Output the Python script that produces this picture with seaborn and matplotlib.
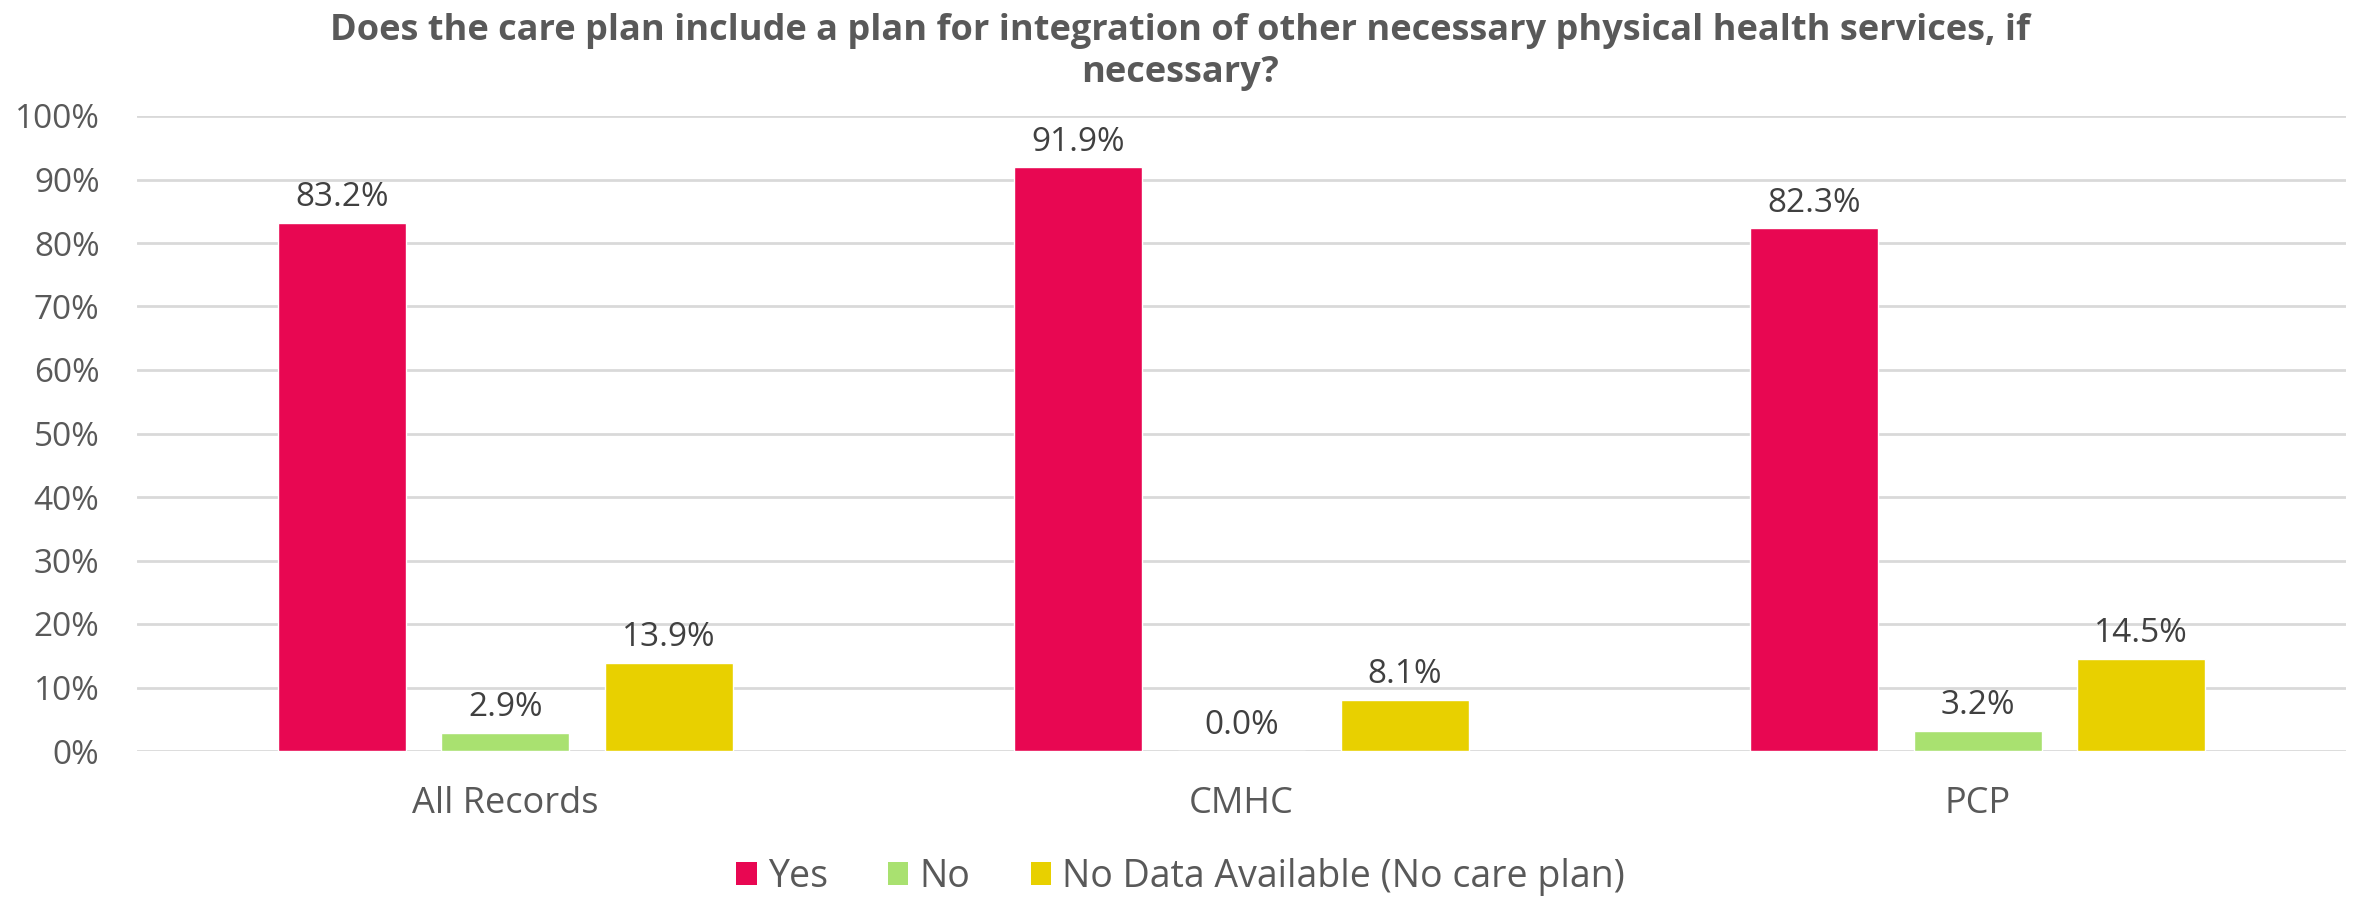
import matplotlib
matplotlib.use("Agg")
import matplotlib.pyplot as plt
from matplotlib.patches import Patch
import seaborn as sns
import pandas as pd

# Chart data
groups = ["All Records", "CMHC", "PCP"]
responses = ["Yes", "No", "No Data Available (No care plan)"]
yes_pct = [83.2, 91.9, 82.3]
no_pct = [2.9, 0.0, 3.2]
no_data_pct = [13.9, 8.1, 14.5]
y_ticks = [0, 10, 20, 30, 40, 50, 60, 70, 80, 90, 100]
title = ("Does the care plan include a plan for integration of other necessary "
         "physical health services, if\nnecessary?")

colors = ["#E80752", "#A9E170", "#E8D000"]
text_grey = "#595959"
label_grey = "#404040"
grid_grey = "#D9D9D9"

sns.set_theme(style="white")
plt.rcParams["font.family"] = ["Open Sans", "DejaVu Sans"]

series = [yes_pct, no_pct, no_data_pct]
df = pd.DataFrame({
    "group": [g for s in series for g in groups],
    "response": [r for r, s in zip(responses, series) for _ in groups],
    "value": [v for s in series for v in s],
})

fig = plt.figure(figsize=(23.61, 9.02), dpi=100)
ax = fig.add_axes([137 / 2361, 1 - 751 / 902, (2346 - 137) / 2361, (751 - 116) / 902])

sns.barplot(data=df, x="group", y="value", hue="response", order=groups,
            hue_order=responses, palette=colors, saturation=1, width=0.666,
            gap=0.217, legend=False, ax=ax, zorder=3)

ax.set_xlim(-0.5, 2.5)
ax.set_ylim(0, 100)
ax.set_yticks(y_ticks)
ax.set_yticklabels([f"{t}%" for t in y_ticks])
ax.grid(axis="y", color=grid_grey, linewidth=2.0, zorder=0)
ax.set_axisbelow(True)
for sp in ax.spines.values():
    sp.set_visible(False)
ax.set_xlabel("")
ax.set_ylabel("")
ax.tick_params(axis="y", length=0, pad=27, labelsize=24, labelcolor=text_grey)
ax.tick_params(axis="x", length=0, pad=25, labelsize=26, labelcolor=text_grey)

# Value labels above each bar
for container, vals in zip(ax.containers, series):
    for bar, v in zip(container, vals):
        ax.annotate(f"{v:.1f}%", (bar.get_x() + bar.get_width() / 2, v),
                    xytext=(0, 12), textcoords="offset points",
                    ha="center", va="baseline", fontsize=24, color=label_grey)

fig.text(0.5, 0.986, title, ha="center", va="top", fontsize=26,
         fontweight="bold", color=text_grey, linespacing=1.25)

handles = [Patch(facecolor=c, edgecolor="none") for c in colors]
fig.legend(handles, responses, loc="center", bbox_to_anchor=(0.5, 0.028),
           ncol=3, frameon=False, fontsize=27, labelcolor=text_grey,
           handlelength=0.55, handleheight=0.55, handletextpad=0.3,
           columnspacing=1.6, borderaxespad=0)

fig.savefig("out.png", dpi=100, facecolor="white")
